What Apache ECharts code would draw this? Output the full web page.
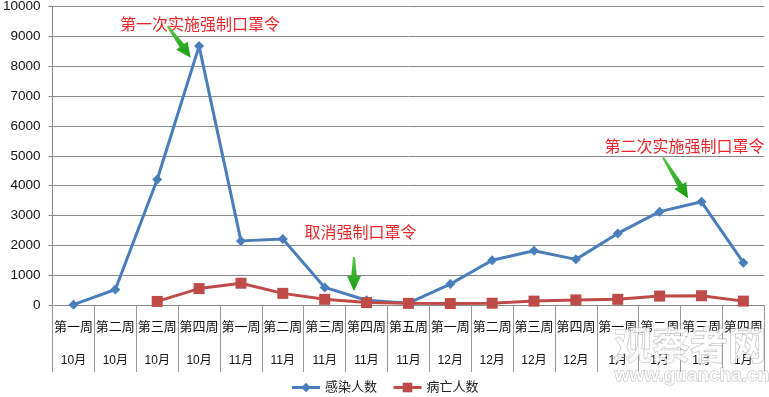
<!DOCTYPE html>
<html>
<head>
<meta charset="utf-8">
<script src="https://cdn.jsdelivr.net/npm/echarts@6/dist/echarts.min.js"></script>
<style>html,body{margin:0;padding:0;background:#fff}#c{width:769px;height:397px}</style>
</head>
<body>
<div id="c"></div>
<script>
var weeks = ['第一周','第二周','第三周','第四周','第一周','第二周','第三周','第四周','第五周','第一周','第二周','第三周','第四周','第一周','第二周','第三周','第四周'];
var months = ['10月','10月','10月','10月','11月','11月','11月','11月','11月','12月','12月','12月','12月','1月','1月','1月','1月'];
var infected = [10, 520, 4210, 8680, 2150, 2210, 590, 160, 60, 700, 1500, 1820, 1530, 2400, 3130, 3460, 1420];
var deaths = [null, null, 120, 550, 730, 390, 190, 80, 55, 50, 60, 130, 170, 190, 300, 310, 130];
var seriesNames = ['感染人数', '病亡人数'];
var yTicks = {min: 0, max: 10000, interval: 1000};
var notes = [
  {text: '第一次实施强制口罩令', cat: 3, val: 9430, dx: 1},
  {text: '取消强制口罩令', cat: 7, val: 2440, dx: -6},
  {text: '第二次实施强制口罩令', cat: 15, val: 5350, dx: -17}
];
// arrows: [fromCat, fromVal, toCat, toVal]
var arrows = [
  [2.25, 9350, 2.8, 8290],
  [6.7, 1610, 6.7, 470],
  [14.08, 4950, 14.68, 3580]
];

var font = '"Liberation Sans", "Noto Sans CJK SC", sans-serif';
var chart = echarts.init(document.getElementById('c'), null, {renderer: 'canvas'});
chart.setOption({
  animation: false,
  backgroundColor: '#fff',
  textStyle: {fontFamily: font},
  grid: {left: 50.7, right: 4.7, top: 6, bottom: 92, containLabel: false},
  legend: {
    data: seriesNames, top: 376, left: 'center', itemWidth: 28, itemHeight: 12, itemGap: 15,
    lineStyle: {width: 3},
    textStyle: {fontSize: 13, color: '#222', fontFamily: font}
  },
  xAxis: {
    type: 'category', data: weeks, boundaryGap: true,
    axisLine: {lineStyle: {color: '#888', width: 1}},
    axisTick: {show: true, interval: 0, length: 67, alignWithLabel: false, lineStyle: {color: '#999'}},
    axisLabel: {
      interval: 0, margin: 5, color: '#111',
      formatter: function (v, i) { return '{w|' + v + '}\n{m|' + months[i] + '}'; },
      rich: {
        w: {fontSize: 13, lineHeight: 34, color: '#111', fontFamily: font},
        m: {fontSize: 12, lineHeight: 34, color: '#111', fontFamily: font}
      }
    },
    splitLine: {show: false}
  },
  yAxis: {
    type: 'value', min: yTicks.min, max: yTicks.max, interval: yTicks.interval,
    axisLine: {show: true, lineStyle: {color: '#888'}},
    axisTick: {show: true, length: 4, lineStyle: {color: '#888'}},
    axisLabel: {fontSize: 13.5, color: '#111', margin: 12, fontFamily: font,
      formatter: function (v) { return String(v); }},
    splitLine: {lineStyle: {color: '#8a8a8a', width: 1}}
  },
  series: [
    {name: seriesNames[0], type: 'line', data: infected, symbol: 'diamond', symbolSize: 10,
     lineStyle: {width: 3, color: '#4A7EBB'}, itemStyle: {color: '#4A7EBB'}, z: 2},
    {name: seriesNames[1], type: 'line', data: deaths, symbol: 'rect', symbolSize: 11, connectNulls: false,
     lineStyle: {width: 3, color: '#BE4B48'}, itemStyle: {color: '#BE4B48'}, z: 3}
  ]
});

function px(cat, val) {
  var i0 = Math.floor(cat), f = cat - i0;
  var a = chart.convertToPixel({gridIndex: 0}, [i0, val]);
  var b = chart.convertToPixel({gridIndex: 0}, [i0 + 1, val]);
  return [a[0] + (b[0] - a[0]) * f, a[1]];
}
var g = [];
notes.forEach(function (n) {
  var p = px(n.cat, n.val);
  g.push({type: 'text', x: p[0] + n.dx, y: p[1], z: 10,
    style: {text: n.text, fill: '#E8262A', font: '16px "Noto Sans CJK SC", sans-serif', textAlign: 'center', textVerticalAlign: 'middle'}});
});
arrows.forEach(function (a) {
  var s = px(a[0], a[1]), e = px(a[2], a[3]);
  var dx = e[0] - s[0], dy = e[1] - s[1], L = Math.sqrt(dx * dx + dy * dy);
  var ux = dx / L, uy = dy / L, nx = -uy, ny = ux;
  var headLen = 15, headW = 7, shaftW0 = 1, shaftW1 = 2.8;
  var bx = e[0] - ux * headLen, by = e[1] - uy * headLen;
  var pts = [
    [s[0] + nx * shaftW0, s[1] + ny * shaftW0],
    [bx + nx * shaftW1, by + ny * shaftW1],
    [bx + nx * headW, by + ny * headW],
    [e[0], e[1]],
    [bx - nx * headW, by - ny * headW],
    [bx - nx * shaftW1, by - ny * shaftW1],
    [s[0] - nx * shaftW0, s[1] - ny * shaftW0]
  ];
  g.push({type: 'polygon', z: 10, shape: {points: pts},
    style: {fill: new echarts.graphic.LinearGradient(s[0], s[1], e[0], e[1], [{offset: 0, color: '#5cc94a'}, {offset: 1, color: '#159a12'}], true)}});
});
// watermark
g.push({type: 'text', x: 690, y: 345, z: 20,
  style: {text: '观察者网', font: 'bold 38px "Noto Sans CJK SC", sans-serif', fill: 'rgba(255,255,255,0.8)', stroke: 'rgba(170,170,170,0.8)', lineWidth: 1, textAlign: 'center', textVerticalAlign: 'middle'}});
g.push({type: 'text', x: 692, y: 376, z: 20,
  style: {text: 'www.guancha.cn', font: 'bold 19px "Liberation Sans", sans-serif', fill: 'rgba(255,255,255,0.85)', stroke: 'rgba(170,170,170,0.8)', lineWidth: 1, textAlign: 'center', textVerticalAlign: 'middle'}});
chart.setOption({graphic: g});
</script>
</body>
</html>
